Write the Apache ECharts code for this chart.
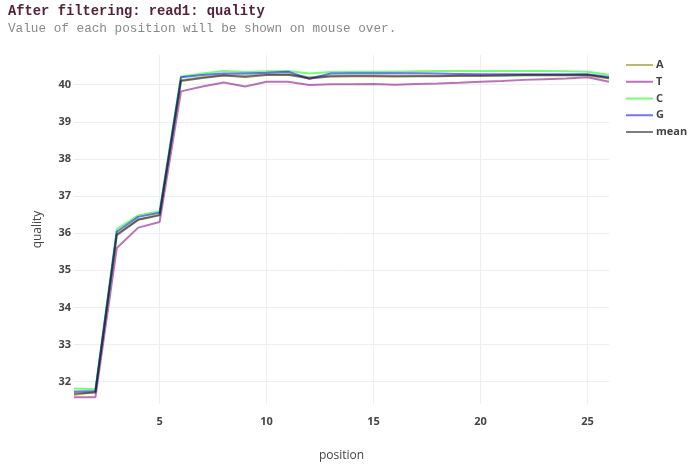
<!DOCTYPE html>
<html>
<head>
<meta charset="utf-8">
<script src="https://cdn.jsdelivr.net/npm/echarts@6/dist/echarts.min.js"></script>
<style>
html,body{margin:0;padding:0;background:#fff;}
#chart{width:692px;height:475px;}
</style>
</head>
<body>
<div id="chart"></div>
<script>
var titleText = 'After filtering: read1: quality';
var subtitleText = 'Value of each position will be shown on mouse over.';
var positions = [1,2,3,4,5,6,7,8,9,10,11,12,13,14,15,16,17,18,19,20,21,22,23,24,25,26];
var seriesNames = ['A','T','C','G','mean'];
var valuesA = [31.64,31.72,35.98,36.37,36.50,40.12,40.20,40.26,40.24,40.28,40.28,40.20,40.24,40.25,40.25,40.24,40.24,40.24,40.24,40.24,40.25,40.25,40.25,40.25,40.25,40.17];
var valuesT = [31.58,31.58,35.60,36.15,36.30,39.82,39.95,40.06,39.95,40.08,40.08,39.99,40.01,40.01,40.02,40.00,40.02,40.03,40.05,40.08,40.10,40.13,40.15,40.17,40.20,40.08];
var valuesC = [31.82,31.80,36.11,36.48,36.59,40.22,40.30,40.37,40.34,40.36,40.37,40.30,40.34,40.35,40.35,40.35,40.36,40.37,40.37,40.37,40.37,40.37,40.37,40.36,40.35,40.27];
var valuesG = [31.74,31.75,36.04,36.44,36.55,40.20,40.26,40.30,40.30,40.32,40.35,40.16,40.30,40.31,40.31,40.31,40.31,40.30,40.29,40.28,40.28,40.28,40.28,40.28,40.28,40.21];
var valuesMean = [31.68,31.71,35.95,36.36,36.48,40.10,40.18,40.25,40.21,40.26,40.27,40.17,40.22,40.23,40.23,40.22,40.23,40.23,40.24,40.24,40.25,40.26,40.26,40.26,40.27,40.18];
var colors = ['rgba(128,128,0,0.55)','rgba(128,0,128,0.55)','rgba(0,255,0,0.55)','rgba(0,0,255,0.55)','rgba(20,20,20,0.55)'];

var allValues = [valuesA, valuesT, valuesC, valuesG, valuesMean];
var chart = echarts.init(document.getElementById('chart'), null, {renderer:'canvas'});
var series = seriesNames.map(function(name, i){
  return {
    name: name,
    type: 'line',
    symbol: 'none',
    data: positions.map(function(p, j){ return [p, allValues[i][j]]; }),
    lineStyle: {width: 2, color: colors[i]},
    itemStyle: {color: colors[i]},
    emphasis: {disabled: true},
    animation: false
  };
});
chart.setOption({
  animation: false,
  backgroundColor: '#fff',
  title: {
    text: titleText,
    subtext: subtitleText,
    left: 3,
    top: 0,
    itemGap: 3,
    textStyle: {fontFamily: 'Liberation Mono', fontWeight: 'bold', fontSize: 13.8, color: '#552238'},
    subtextStyle: {fontFamily: 'Liberation Mono', fontSize: 12.7, color: '#8a8a8a'}
  },
  legend: {
    orient: 'vertical',
    left: 621,
    top: 54,
    icon: 'rect',
    itemWidth: 27,
    itemHeight: 2,
    itemGap: 4.75,
    data: seriesNames,
    textStyle: {fontFamily: 'Open Sans', fontWeight: 'bold', fontSize: 11, color: '#444', padding: [0,0,0,-2], lineHeight: 12}
  },
  grid: {left: 74, right: 83, top: 55, bottom: 71},
  xAxis: {
    type: 'value',
    min: 1,
    max: 26,
    splitNumber: 5,
    name: 'position',
    nameLocation: 'middle',
    nameGap: 46,
    nameTextStyle: {fontFamily: 'Open Sans', fontSize: 12, color: '#444'},
    axisLine: {show: false},
    axisTick: {show: false},
    axisLabel: {showMinLabel: false, showMaxLabel: false, margin: 12, fontFamily: 'Open Sans', fontWeight: 'bold', fontSize: 11, color: '#444'},
    splitLine: {show: true, showMinLine: false, showMaxLine: false, lineStyle: {color: '#eeeeee', width: 1}}
  },
  yAxis: {
    type: 'value',
    min: 31.4,
    max: 40.8,
    splitNumber: 9,
    name: 'quality',
    nameLocation: 'middle',
    nameGap: 30,
    nameTextStyle: {fontFamily: 'Open Sans', fontSize: 12, color: '#444'},
    axisLine: {show: false},
    axisTick: {show: false},
    axisLabel: {showMinLabel: false, showMaxLabel: false, margin: 3, fontFamily: 'Open Sans', fontWeight: 'bold', fontSize: 11, color: '#444'},
    splitLine: {show: true, showMinLine: false, showMaxLine: false, lineStyle: {color: '#eeeeee', width: 1}}
  },
  series: series
});
</script>
</body>
</html>
